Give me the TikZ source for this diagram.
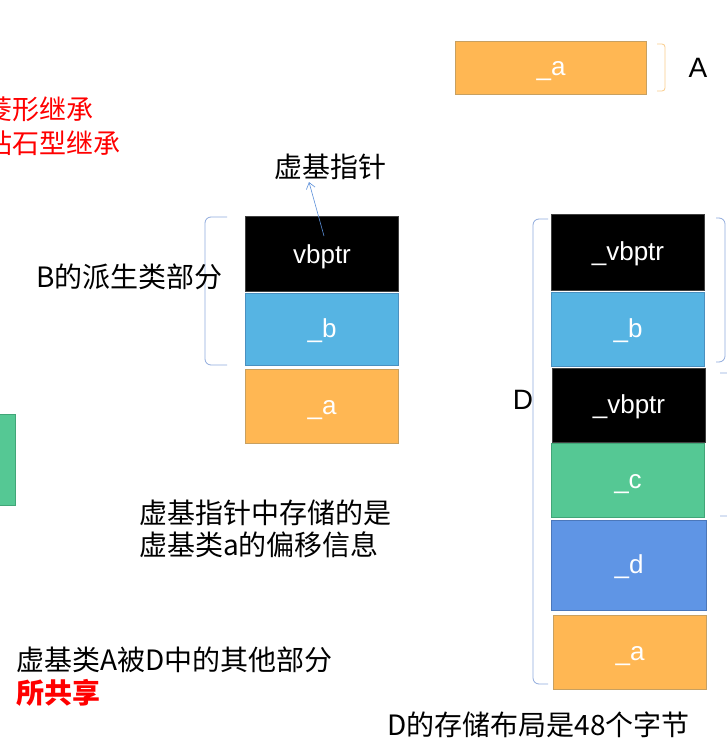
\documentclass[tikz,border=0pt]{standalone}
\usepackage{fontspec}
\setmainfont{Liberation Sans}
\newfontfamily\cjk{Noto Sans CJK SC}
\usetikzlibrary{positioning, arrows.meta}

\definecolor{slotOrange}{HTML}{FFB753}
\definecolor{slotOrangeLine}{HTML}{C8A060}
\definecolor{slotBlue}{HTML}{56B4E3}
\definecolor{slotBlueLine}{HTML}{4A90C0}
\definecolor{slotGreen}{HTML}{55C894}
\definecolor{slotGreenLine}{HTML}{41A678}
\definecolor{slotDeep}{HTML}{5F95E5}
\definecolor{slotDeepLine}{HTML}{4B77BA}
\definecolor{braceBlue}{HTML}{8FAADC}
\definecolor{braceOrange}{HTML}{F8CB8A}
\definecolor{ptrBlue}{HTML}{5B8FD9}

\begin{document}
\begin{tikzpicture}
	[
		x=1pt, y=-1pt,
		node distance=1pt,
		>={Straight Barb[length=6pt, width=9pt]},
		slot/.style={
				rectangle,
				minimum width=153pt,
				minimum height=74pt,
				inner sep=0pt,
				text height=16pt,
				text depth=0pt,
				line width=1pt,
				text=white,
				font=\fontsize{26}{26}\selectfont,
			},
		vbSlot/.style={slot, fill=black, draw=black!75},
		aSlot/.style={slot, fill=slotOrange, draw=slotOrangeLine},
		bSlot/.style={slot, fill=slotBlue, draw=slotBlueLine},
		cSlot/.style={slot, fill=slotGreen, draw=slotGreenLine},
		dSlot/.style={slot, fill=slotDeep, draw=slotDeepLine},
		brace/.style={draw=braceBlue, line width=0.8pt, rounded corners=6pt},
		note/.style={inner sep=0pt, font=\cjk\fontsize{28}{28}\selectfont},
	]
	\useasboundingbox (0,0) rectangle (727,754);
	\clip (0,0) rectangle (727,754);

	% class A on its own
	\node [aSlot, minimum width=191pt, minimum height=53pt, anchor=north west] (aa) at (455,41) {\_a};
	\draw [brace, draw=braceOrange, rounded corners=3pt] (657,44) -- (665,44) -- (665,91) -- (657,91);
	\node [note, font=\fontsize{28}{28}\selectfont] (aname) at (698,68) {A};

	% class B layout
	\node [vbSlot, minimum height=75pt, text height=19pt, anchor=north west] (bvptr) at (245,216) {vbptr};
	\node [bSlot, minimum height=72pt, below=1pt of bvptr] (bb) {\_b};
	\node [aSlot, below=3pt of bb] (ba) {\_a};
	\draw [brace] (227,217) -- (205,217) -- (205,365) -- (227,365);
	\node [note, anchor=west] (bpart) at (36,277) {B的派生类部分};

	\node [note] (vbtitle) at (330,167) {虚基指针};
	\draw [->, ptrBlue, line width=0.6pt] ([xshift=2pt,yshift=18pt]bvptr.center) -- ([xshift=-21pt,yshift=-2pt]vbtitle.south);

	% class D layout
	\node [vbSlot, minimum height=76pt, anchor=north west] (dvptrB) at (551,214) {\_vbptr};
	\node [bSlot, below=1pt of dvptrB] (db) {\_b};
	\node [vbSlot, below=1pt of db, xshift=1pt] (dvptrC) {\_vbptr};
	\node [cSlot, below=0pt of dvptrC, xshift=-1pt] (dc) {\_c};
	\node [dSlot, minimum width=155pt, minimum height=90pt, below=2pt of dc, xshift=1pt] (dd) {\_d};
	\node [aSlot, below=4pt of dd, xshift=1pt] (da) {\_a};
	\draw [brace] (548,219) -- (533,219) -- (533,684) -- (548,684);
	\draw [brace] (716,218) -- (725,218) -- (725,362) -- (716,362);
	\draw [brace] (720,373) -- (740,373) -- (740,516) -- (720,516);
	\node [note, font=\fontsize{28}{28}\selectfont] (dname) at (523,400) {D};

	% cut-off part on the left
	\node [cSlot, minimum width=155pt, minimum height=91pt, anchor=north west] (leftc) at (-140,414) {};

	\begin{scope}[every node/.style={note, anchor=west}]
		\node [red, font=\cjk\fontsize{27}{27}\selectfont] (diamond1) at (-15,109) {菱形继承};
		\node [red, font=\cjk\fontsize{27}{27}\selectfont] (diamond2) at (-15,143) {钻石型继承};
		\node (offset1) at (139,513) {虚基指针中存储的是};
		\node (offset2) at (139,545) {虚基类a的偏移信息};
		\node (shared1) at (16,660) {虚基类A被D中的其他部分};
		\node [red, font=\cjk\bfseries\fontsize{28}{28}\selectfont] (shared2) at (16,693) {所共享};
		\node (dsize) at (387,725) {D的存储布局是48个字节};
	\end{scope}
\end{tikzpicture}
\end{document}
